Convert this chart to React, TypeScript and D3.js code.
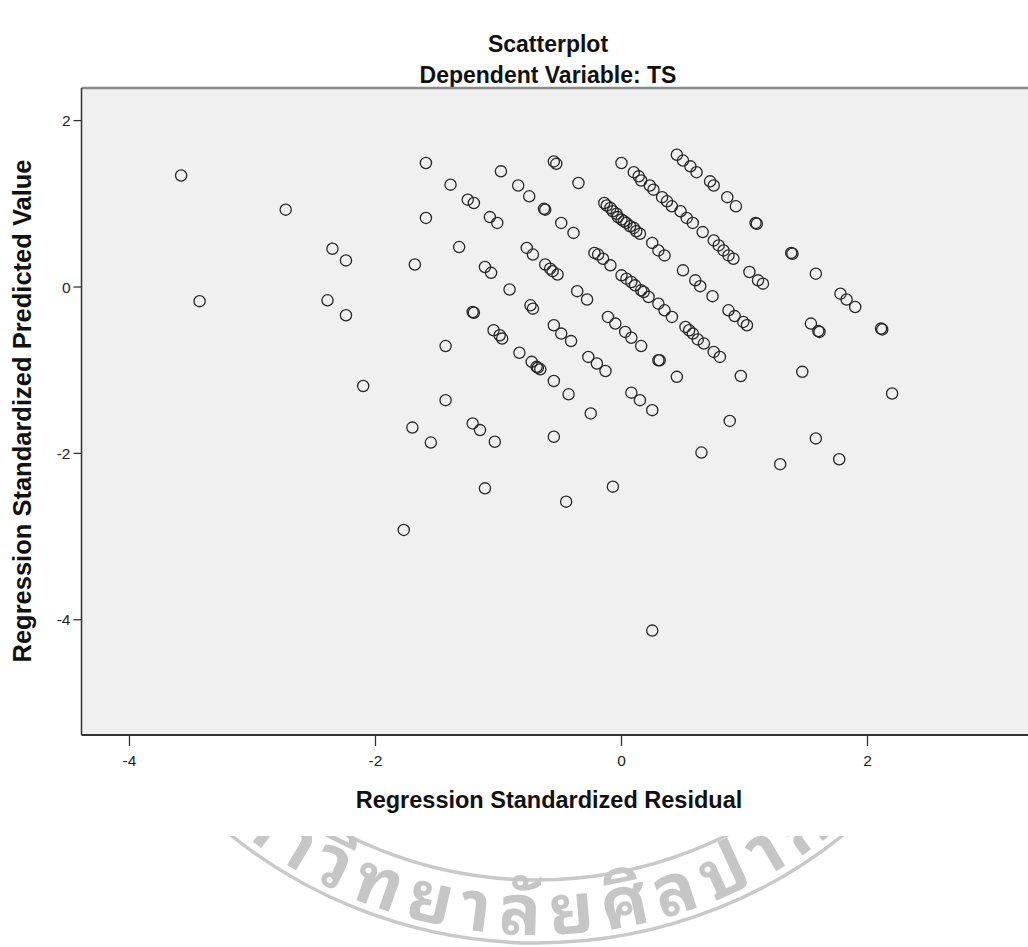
import React from "react";
import * as d3 from "d3";

// Regression standardized residual (x) and standardized predicted value (y), case by case
const residuals: number[] = [
  -3.58, -1.59, -1.39, -2.73, -1.59, -2.35, -2.24, -1.68, -1.32, -3.43,
  -2.39, -2.24, -1.43, -2.10, -1.43, -1.70, -1.55, -1.77, -0.98, -0.55,
  -0.53, -0.84, -0.75, -0.35, -1.25, -1.20, -0.63, -0.62, -1.07, -1.01,
  -0.49, -0.39, -0.77, -0.72, -0.22, -0.19, -0.15, -0.09, -1.11, -1.06,
  -0.62, -0.58, -0.56, -0.52, -0.91, -0.36, -0.28, -1.21, -1.20, -0.74,
  -0.72, -1.04, -0.99, -0.97, -0.55, -0.49, -0.41,
  0.00, 0.10, 0.14, 0.16, 0.23, 0.26, 0.33, 0.37, 0.41, 0.48,
  0.53, 0.58, 0.66, 0.75, 0.79, 0.83, 0.87, 0.91, 1.04, 1.11,
  1.15, 0.45, 0.50, 0.56, 0.61, 0.72, 0.75, 0.86, 0.93, 1.09,
  1.10, 1.38, 1.39, 1.58, 1.78, 1.83, 1.90, 1.54, 1.60, 1.61,
  -0.14, -0.12, -0.09, -0.07, -0.04, -0.03, 0.00, 0.02, 0.04, 0.07,
  0.10, 0.12, 0.15,
  0.25, 0.30, 0.35, 0.50, 0.60, 0.64, 0.74,
  0.00, 0.04, 0.08, 0.11, 0.16, 0.18, 0.22, 0.30, 0.35, 0.41,
  0.52, 0.55, 0.58, 0.62, 0.67, 0.75, 0.80,
  0.87, 0.92, 0.99, 1.02,
  -0.11, -0.05, 0.03, 0.08, 0.16,
  0.30, 0.31, 0.45, -0.83, -0.73, -0.69, -0.68, -0.66,
  -0.27, -0.20, -0.13, -0.55, -0.43, 0.08, 0.15, 0.25, -0.25,
  -1.21, -1.15, -1.03, -0.55, 0.65, 0.97, 1.47, 2.20, 0.88, 1.58,
  2.11, 2.12, 1.29, 1.77, -1.11, -0.45, -0.07, 0.25,
];

const predicted: number[] = [
  1.34, 1.49, 1.23, 0.93, 0.83, 0.46, 0.32, 0.27, 0.48, -0.17,
  -0.16, -0.34, -0.71, -1.19, -1.36, -1.69, -1.87, -2.92, 1.39, 1.51,
  1.48, 1.22, 1.09, 1.25, 1.05, 1.01, 0.94, 0.93, 0.84, 0.77,
  0.77, 0.65, 0.47, 0.39, 0.41, 0.39, 0.34, 0.26, 0.24, 0.17,
  0.27, 0.22, 0.19, 0.15, -0.03, -0.05, -0.15, -0.30, -0.31, -0.22,
  -0.26, -0.52, -0.58, -0.62, -0.46, -0.56, -0.65,
  1.49, 1.38, 1.33, 1.28, 1.22, 1.17, 1.08, 1.03, 0.97, 0.91,
  0.83, 0.77, 0.66, 0.56, 0.50, 0.44, 0.38, 0.34, 0.18, 0.08,
  0.04, 1.59, 1.52, 1.45, 1.38, 1.27, 1.22, 1.08, 0.97, 0.77,
  0.76, 0.41, 0.40, 0.16, -0.08, -0.15, -0.24, -0.44, -0.53, -0.54,
  1.01, 0.98, 0.95, 0.91, 0.88, 0.84, 0.81, 0.79, 0.77, 0.73,
  0.71, 0.67, 0.64,
  0.53, 0.44, 0.38, 0.20, 0.08, 0.01, -0.11,
  0.14, 0.10, 0.06, 0.02, -0.04, -0.06, -0.12, -0.20, -0.28, -0.36,
  -0.48, -0.52, -0.56, -0.63, -0.68, -0.78, -0.84,
  -0.28, -0.35, -0.42, -0.46,
  -0.36, -0.44, -0.54, -0.61, -0.71,
  -0.88, -0.88, -1.08, -0.79, -0.90, -0.96, -0.97, -0.99,
  -0.84, -0.92, -1.01, -1.13, -1.29, -1.27, -1.36, -1.48, -1.52,
  -1.64, -1.72, -1.86, -1.80, -1.99, -1.07, -1.02, -1.28, -1.61, -1.82,
  -0.50, -0.51, -2.13, -2.07, -2.42, -2.58, -2.40, -4.13,
];

const xTicks: number[] = [-4, -2, 0, 2];
const yTicks: number[] = [2, 0, -2, -4];

const titleText = "Scatterplot";
const subtitleText = "Dependent Variable: TS";
const xTitle = "Regression Standardized Residual";
const yTitle = "Regression Standardized Predicted Value";
const sealText = "มหาวิทยาลัยศิลปากร";

const W = 1028;
const H = 947;
const plot = { left: 81.5, right: 1045, top: 88, bottom: 735 };

const FONT = "'Liberation Sans', Arial, Helvetica, sans-serif";
const THAI_FONT =
  "'Noto Sans Thai Looped', 'Noto Serif Thai', Loma, Garuda, Norasi, Kinnari, 'Noto Sans Thai', 'Noto Sans', sans-serif";

export default function App() {
  const x = d3
    .scaleLinear()
    .domain([-4.39, 3.443])
    .range([plot.left, plot.right]);
  const y = d3
    .scaleLinear()
    .domain([-5.385, 2.392])
    .range([plot.bottom, plot.top]);

  const points = residuals.map((r, i) => ({ r, p: predicted[i] }));

  // seal ring below the chart
  const seal = { cx: 537, cy: 455, outer: 488, inner: 425, text: 480 };
  const arc = (rad: number) =>
    `M ${seal.cx - rad},${seal.cy} A ${rad} ${rad} 0 0 0 ${seal.cx + rad},${seal.cy}`;

  return (
    <div style={{ position: "absolute", left: 0, top: 0 }}>
      <svg width={W} height={H} style={{ display: "block", background: "#fff" }}>
        <defs>
          <clipPath id="sealClip">
            <rect x={0} y={836} width={W} height={H - 836} />
          </clipPath>
          <clipPath id="plotClip">
            <rect x={plot.left} y={plot.top} width={plot.right - plot.left} height={plot.bottom - plot.top} />
          </clipPath>
          <path id="sealPath" d={arc(seal.text)} />
        </defs>

        <g clipPath="url(#sealClip)" fill="none" stroke="#c9c9c9">
          <circle cx={seal.cx} cy={seal.cy} r={seal.outer} strokeWidth={3.5} />
          <circle cx={seal.cx} cy={seal.cy} r={seal.inner} strokeWidth={3.5} />
          <text
            fill="#c6c6c6"
            stroke="none"
            fontFamily={THAI_FONT}
            fontSize={70}
            fontWeight="bold"
            letterSpacing={10}
          >
            <textPath href="#sealPath" startOffset="49.5%" textAnchor="middle">
              {sealText}
            </textPath>
          </text>
        </g>

        <text x={548} y={52} textAnchor="middle" fontFamily={FONT} fontWeight="bold" fontSize={23} fill="#111">
          {titleText}
        </text>
        <text x={548} y={83} textAnchor="middle" fontFamily={FONT} fontWeight="bold" fontSize={23} fill="#111">
          {subtitleText}
        </text>

        <rect
          x={plot.left}
          y={plot.top}
          width={plot.right - plot.left}
          height={plot.bottom - plot.top}
          fill="#f0f0f0"
        />

        <g clipPath="url(#plotClip)">
          {points.map((d, i) => (
            <circle
              key={i}
              cx={x(d.r)}
              cy={y(d.p)}
              r={5.6}
              fill="none"
              stroke="#262626"
              strokeWidth={1.3}
            />
          ))}
        </g>

        {/* frame */}
        <line x1={plot.left} x2={W} y1={plot.top} y2={plot.top} stroke="#8a8a8a" strokeWidth={2.5} />
        <line x1={plot.left} x2={W} y1={plot.bottom} y2={plot.bottom} stroke="#333" strokeWidth={2} />
        <line x1={plot.left} x2={plot.left} y1={plot.top} y2={plot.bottom} stroke="#333" strokeWidth={1.5} />

        {/* y axis */}
        {yTicks.map((t) => (
          <g key={`y${t}`}>
            <line x1={plot.left - 8} x2={plot.left} y1={y(t)} y2={y(t)} stroke="#333" strokeWidth={1.3} />
            <text
              x={plot.left - 11}
              y={y(t)}
              dy="0.36em"
              textAnchor="end"
              fontFamily={FONT}
              fontSize={15.5}
              fill="#222"
            >
              {t}
            </text>
          </g>
        ))}

        {/* x axis */}
        {xTicks.map((t) => (
          <g key={`x${t}`}>
            <line x1={x(t)} x2={x(t)} y1={plot.bottom} y2={plot.bottom + 11} stroke="#333" strokeWidth={1.3} />
            <text x={x(t)} y={plot.bottom + 31} textAnchor="middle" fontFamily={FONT} fontSize={15.5} fill="#222">
              {t}
            </text>
          </g>
        ))}

        <text x={549} y={808} textAnchor="middle" fontFamily={FONT} fontWeight="bold" fontSize={23.5} fill="#111">
          {xTitle}
        </text>
        <text
          transform={`translate(31,411) rotate(-90)`}
          textAnchor="middle"
          fontFamily={FONT}
          fontWeight="bold"
          fontSize={25.5}
          fill="#111"
        >
          {yTitle}
        </text>
      </svg>
    </div>
  );
}
